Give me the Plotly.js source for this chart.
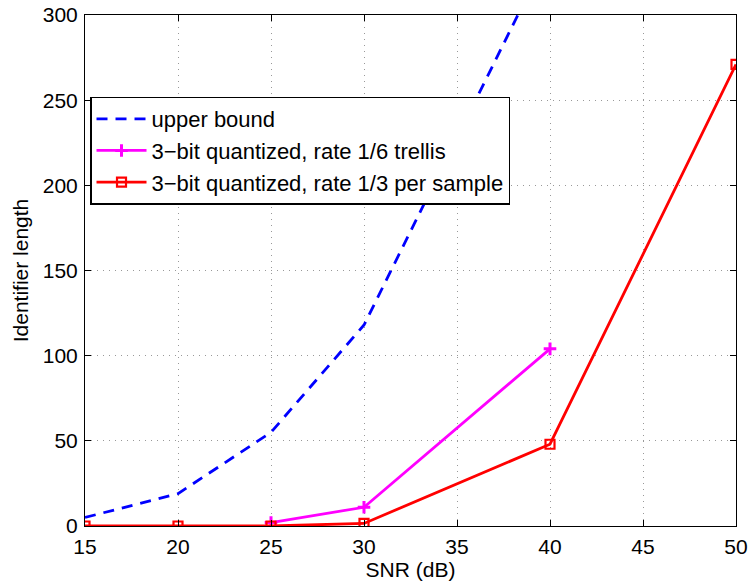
<!DOCTYPE html>
<html>
<head>
<meta charset="utf-8">
<script src="https://cdn.plot.ly/plotly-3.0.1.min.js"></script>
<style>html,body{margin:0;padding:0;background:#fff;}#chart{width:751px;height:585px;}</style>
</head>
<body>
<div id="chart"></div>
<script>
const snrUpper = [15, 20, 25, 30, 40];
const upperBound = [5, 19, 55, 118, 338];
const snrTrellis = [25, 30, 40];
const trellis = [2, 11, 104];
const snrPerSample = [15, 20, 25, 30, 40, 50];
const perSample = [0, 0, 0, 1.5, 48, 271];
const xTicks = [15, 20, 25, 30, 35, 40, 45, 50];
const yTicks = [0, 50, 100, 150, 200, 250, 300];

const tickFont = {family: 'Liberation Sans, Arial, sans-serif', size: 21, color: '#000'};
const legFont = {family: 'Liberation Sans, Arial, sans-serif', size: 22, color: '#000'};
const titleFont = {family: 'Liberation Sans, Arial, sans-serif', size: 21, color: '#000'};

const traces = [
  {x: snrUpper, y: upperBound, name: 'upper bound', mode: 'lines',
   line: {color: '#0000ff', width: 2.8, dash: '11px,8px'}},
  {x: snrTrellis, y: trellis, name: '3\u2212bit quantized, rate 1/6 trellis', mode: 'lines+markers',
   line: {color: '#ff00ff', width: 2.8},
   marker: {symbol: 'cross-thin-open', size: 9, color: '#ff00ff', line: {color: '#ff00ff', width: 3}}},
  {x: snrPerSample, y: perSample, name: '3\u2212bit quantized, rate 1/3 per sample', mode: 'lines+markers',
   line: {color: '#ff0000', width: 2.8},
   marker: {symbol: 'square-open', size: 9, color: '#ff0000', line: {color: '#ff0000', width: 2.2}}}
];

const axisCommon = {
  showline: true, mirror: 'ticks', linecolor: '#000', linewidth: 1,
  ticks: 'inside', ticklen: 6, tickcolor: '#000',
  showgrid: true, gridcolor: '#999', griddash: '1px,5px', gridwidth: 1,
  zeroline: false, tickfont: tickFont
};

const layout = {
  width: 751, height: 585,
  margin: {l: 85, r: 15, t: 15, b: 59},
  paper_bgcolor: '#fff', plot_bgcolor: '#fff',
  font: tickFont,
  showlegend: true,
  legend: {x: 0.008, y: 0.84, xanchor: 'left', yanchor: 'top',
    bgcolor: '#fff', bordercolor: '#000', borderwidth: 1.3,
    font: legFont, tracegroupgap: 0, itemwidth: 50},
  xaxis: Object.assign({}, axisCommon, {range: [15, 50], tickvals: xTicks,
    ticklabelstandoff: 2,
    title: {text: 'SNR (dB)', font: titleFont, standoff: 0}}),
  yaxis: Object.assign({}, axisCommon, {range: [0, 300], tickvals: yTicks,
    ticklabelstandoff: 2,
    title: {text: 'Identifier length', font: titleFont, standoff: 8}})
};

Plotly.newPlot('chart', traces, layout, {displayModeBar: false});
</script>
</body>
</html>
